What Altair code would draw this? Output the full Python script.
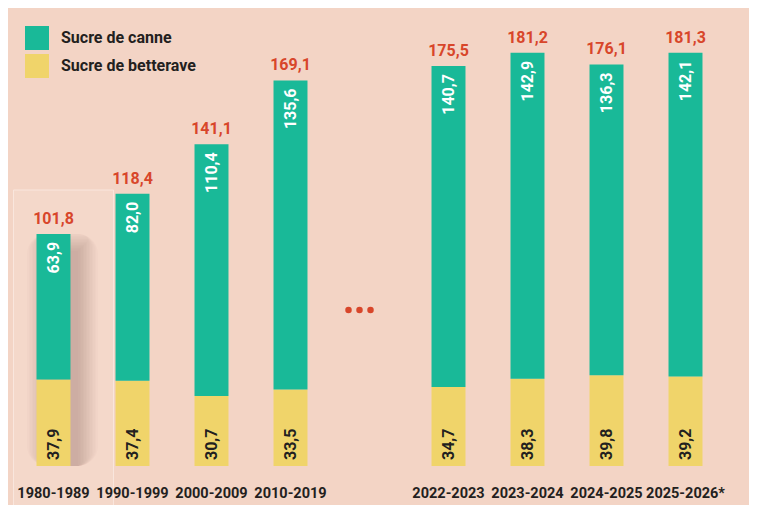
import altair as alt
import pandas as pd

periods = ["1980-1989", "1990-1999", "2000-2009", "2010-2019",
           "2022-2023", "2023-2024", "2024-2025", "2025-2026*"]
canne = [63.9, 82.0, 110.4, 135.6, 140.7, 142.9, 136.3, 142.1]
betterave = [37.9, 37.4, 30.7, 33.5, 34.7, 38.3, 39.8, 39.2]
totals = [101.8, 118.4, 141.1, 169.1, 175.5, 181.2, 176.1, 181.3]
series = ["Sucre de canne", "Sucre de betterave"]
colors = ["#19B998", "#F0D46A"]
gap = "gap"
x_order = periods[:4] + [gap] + periods[4:]

FONT = "Roboto, sans-serif"
DARK = "#231F20"
RED = "#D8462A"
BG = "#F3D4C5"


def fr(v):
    return f"{v:.1f}".replace(".", ",")


rows = []
for p, c, b, t in zip(periods, canne, betterave, totals):
    rows.append(dict(period=p, serie=series[1], y0=0, y1=b, label=fr(b), total=fr(t)))
    rows.append(dict(period=p, serie=series[0], y0=b, y1=b + c, label=fr(c), total=fr(t)))
df = pd.DataFrame(rows)

x_enc = alt.X(
    "period:N",
    scale=alt.Scale(domain=x_order, paddingInner=0.57, paddingOuter=0.285),
    axis=alt.Axis(title=None, domain=False, ticks=False, labelAngle=0, zindex=2,
                  labelExpr="datum.label == 'gap' ? '' : datum.label",
                  labelFont=FONT, labelFontSize=14.5, labelFontWeight="bold",
                  labelColor=DARK, labelPadding=20),
)
y_scale = alt.Scale(domain=[0, 200], nice=False, zero=True)

base = alt.Chart(df)
first = (alt.datum.period == periods[0]) & (alt.datum.serie == series[0])

# highlight frame around the first period
frame = base.transform_filter(first).mark_bar(
    width=100, xOffset=10, fill="#F4D8CA", stroke="#F9E6DD", strokeWidth=1
).encode(x=x_enc, y=alt.value(180), y2=alt.value(497))

# soft shadow of the first bar
shadows = []
for i in range(14):
    grow = 1 + i * 1.5
    shadows.append(
        base.transform_filter(first).mark_bar(
            width=30 + 2 * grow, xOffset=9, yOffset=18 - grow, y2Offset=10 + grow,
            fill="#6b4a40", opacity=0.022, cornerRadius=grow
        ).encode(
            x=x_enc,
            y=alt.Y("y1:Q", scale=y_scale, axis=None),
            y2=alt.value(456),
        )
    )

bars = base.mark_bar().encode(
    x=x_enc,
    y=alt.Y("y1:Q", scale=y_scale, axis=None),
    y2="y0:Q",
    color=alt.Color(
        "serie:N",
        scale=alt.Scale(domain=series, range=colors),
        legend=alt.Legend(orient="none", legendX=11, legendY=16, title=None,
                          symbolType="square", symbolSize=576, symbolStrokeWidth=0,
                          symbolOpacity=1,
                          labelFont=FONT, labelFontSize=16, labelFontWeight="bold",
                          labelColor=DARK, rowPadding=4, labelOffset=12, padding=0),
    ),
)

green_lbl = base.transform_filter(alt.datum.serie == series[0]).mark_text(
    angle=270, align="right", baseline="middle", yOffset=8,
    font=FONT, fontSize=16, fontWeight="bold", color="white"
).encode(x=x_enc, y=alt.Y("y1:Q", scale=y_scale), text="label:N")

yellow_lbl = base.transform_filter(alt.datum.serie == series[1]).mark_text(
    angle=270, align="left", baseline="middle", yOffset=-6,
    font=FONT, fontSize=16, fontWeight="bold", color=DARK
).encode(x=x_enc, y=alt.Y("y0:Q", scale=y_scale), text="label:N")

total_lbl = base.transform_filter(alt.datum.serie == series[0]).mark_text(
    baseline="bottom", yOffset=-7,
    font=FONT, fontSize=16, fontWeight="bold", color=RED
).encode(x=x_enc, y=alt.Y("y1:Q", scale=y_scale), text="total:N")

dots_df = pd.DataFrame({"period": [gap]})
dots = [
    alt.Chart(dots_df).mark_circle(size=42, color=RED, opacity=1, xOffset=off).encode(
        x=x_enc, y=alt.value(300)
    )
    for off in (-21, -10, 1)
]

chart = alt.layer(frame, *shadows, bars, green_lbl, yellow_lbl, total_lbl, *dots).properties(
    width=711, height=456,
    autosize=alt.AutoSizeParams(type="none"),
    padding={"left": 6, "top": 2, "right": 24, "bottom": 39},
    background=BG,
).configure_view(stroke=None)

chart.save("out.html", embed_options={"renderer": "svg", "actions": False})
